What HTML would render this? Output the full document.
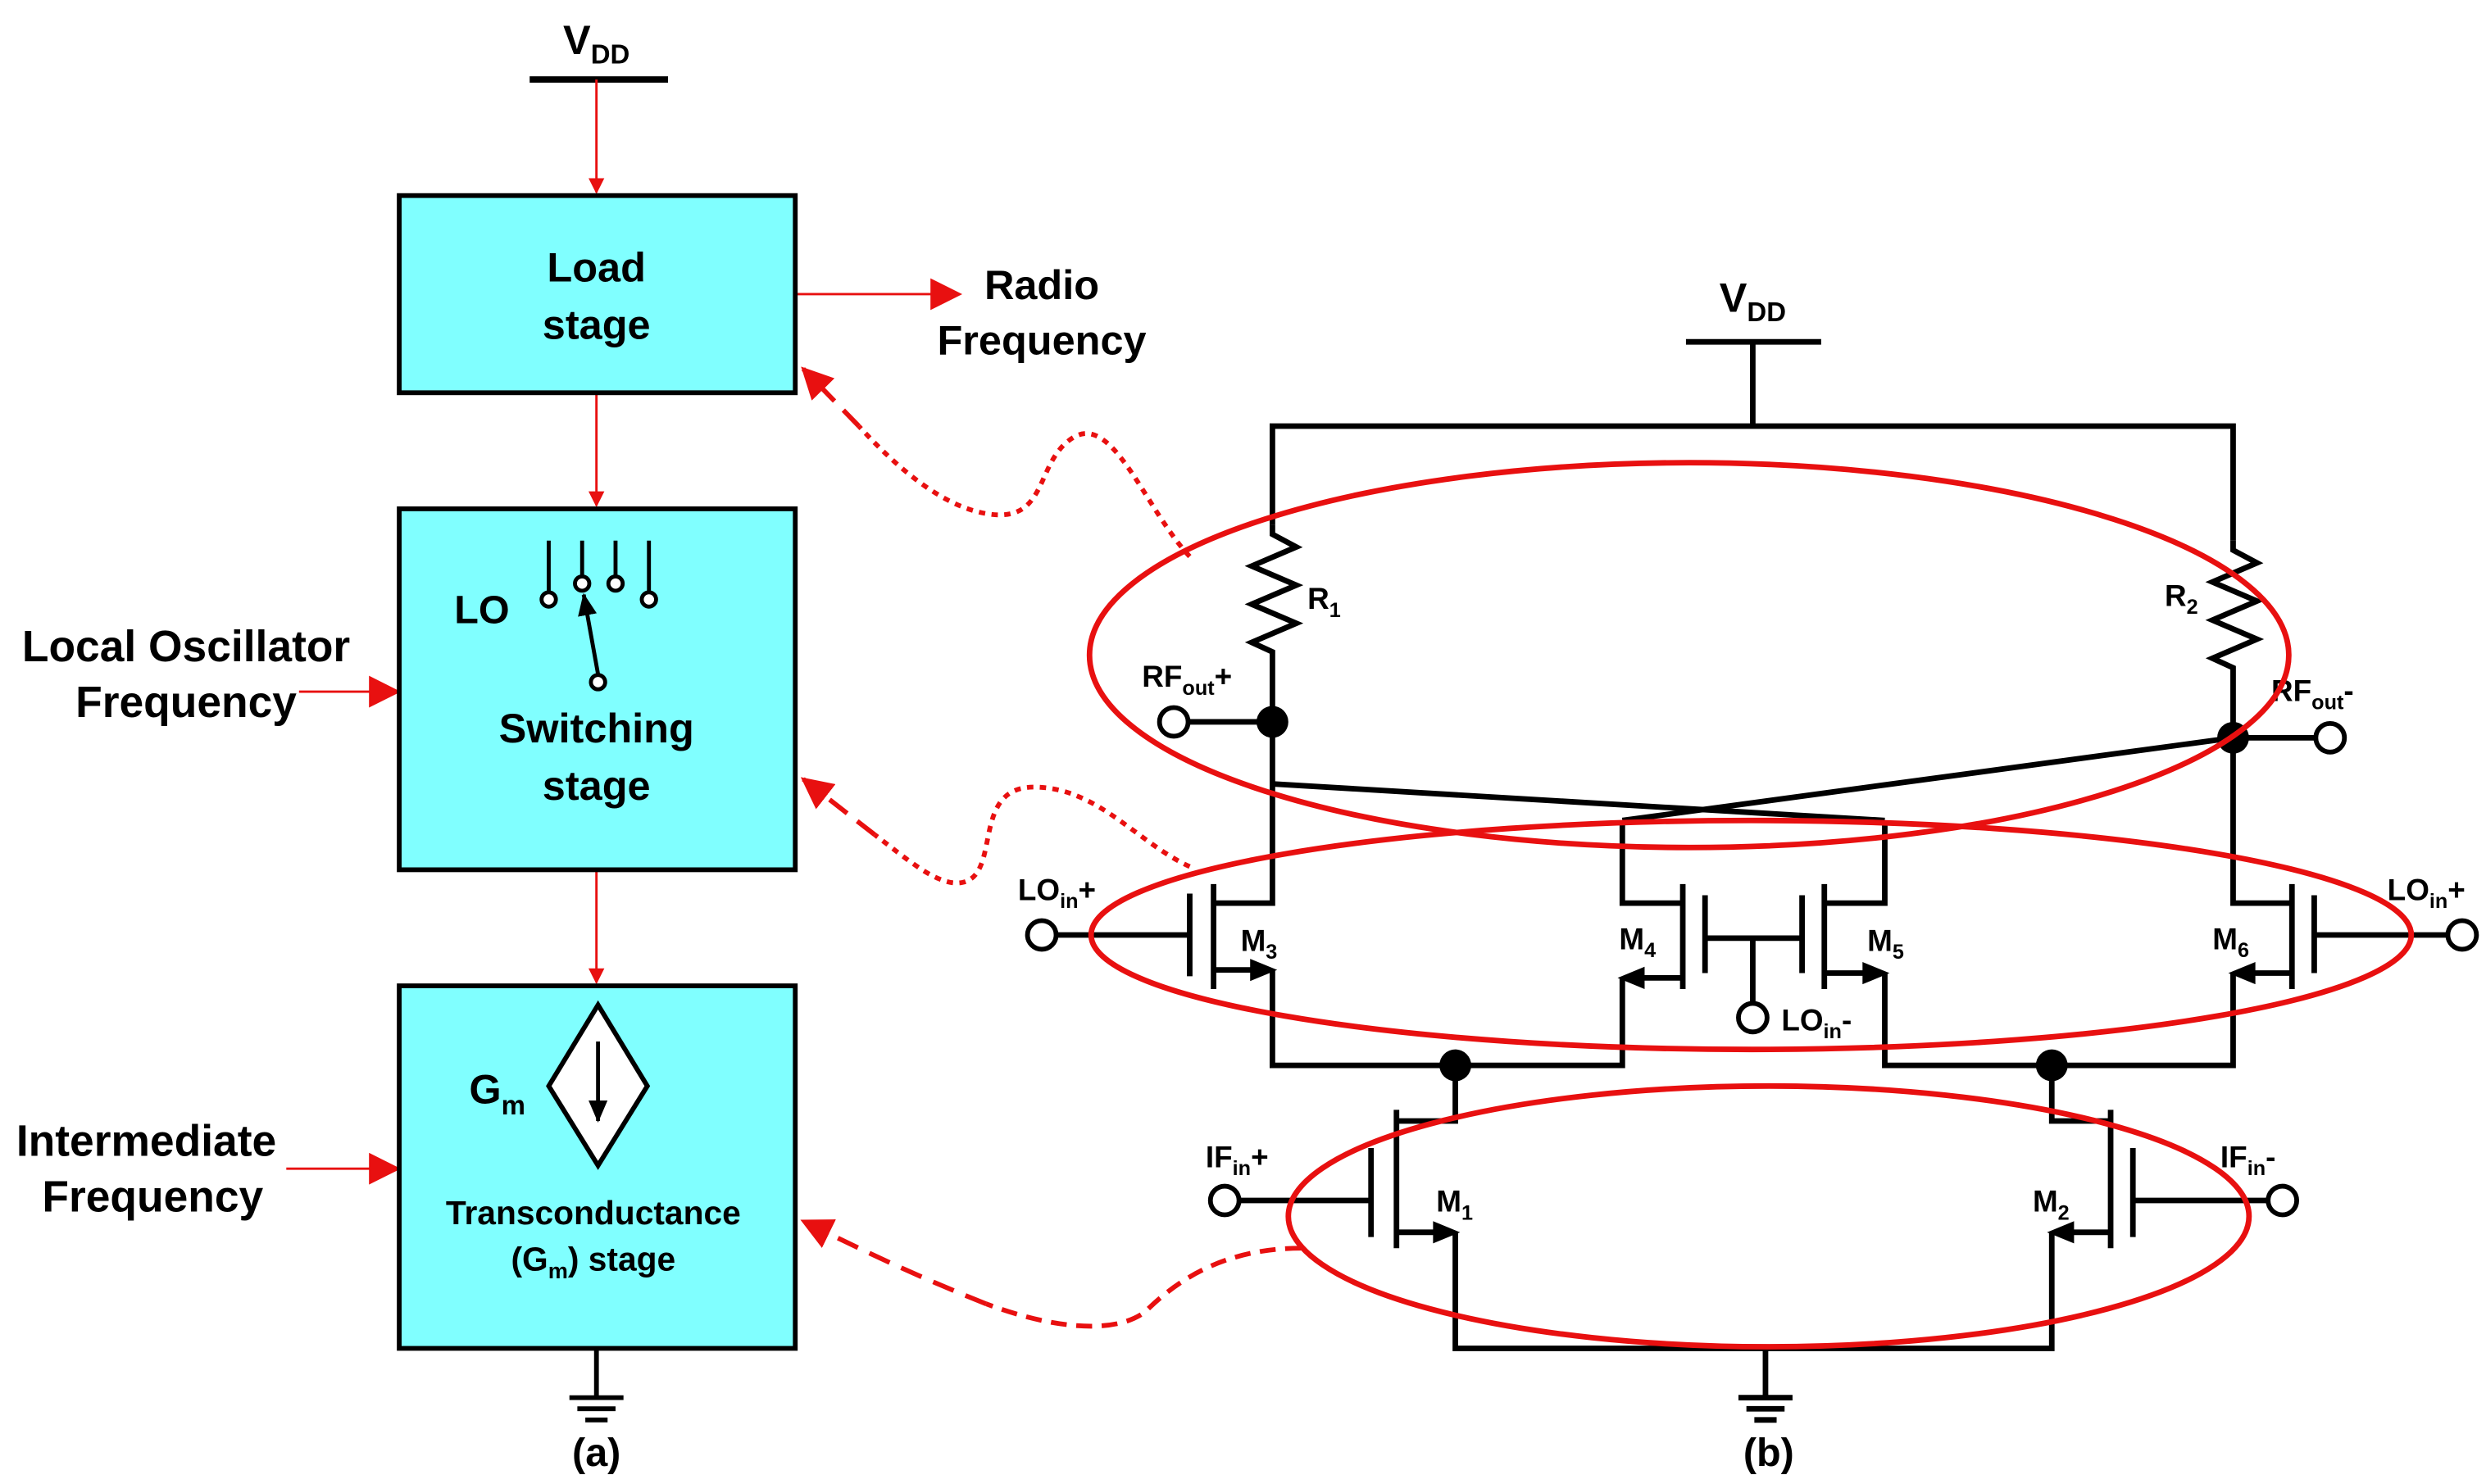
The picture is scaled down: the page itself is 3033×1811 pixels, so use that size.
<!DOCTYPE html>
<html><head><meta charset="utf-8"><style>
html,body{margin:0;padding:0;background:#fff;}
svg{display:block;}
text{font-family:"Liberation Sans",Arial,sans-serif;font-weight:bold;fill:#000;}
</style></head><body>
<svg width="3033" height="1811" viewBox="0 0 1563 933.3" preserveAspectRatio="none" xmlns="http://www.w3.org/2000/svg">
<defs>
<marker id="ra" markerWidth="10" markerHeight="10" refX="9" refY="5" orient="auto" markerUnits="userSpaceOnUse"><path d="M0,0 L10,5 L0,10 Z" fill="#e81010"/></marker>
<marker id="rb" markerWidth="20" markerHeight="20" refX="18" refY="10" orient="auto" markerUnits="userSpaceOnUse"><path d="M0,0 L20,10 L0,20 Z" fill="#e81010"/></marker>
<marker id="ka" markerWidth="14" markerHeight="12" refX="13" refY="6" orient="auto" markerUnits="userSpaceOnUse"><path d="M0,0 L14,6 L0,12 Z" fill="#000"/></marker>
</defs>
<rect width="1563" height="933.3" fill="#fff"/>

<text x="375" y="34" font-size="26" text-anchor="middle">V<tspan font-size="17" dy="6">DD</tspan></text>
<line x1="333" y1="50" x2="420" y2="50" stroke="#000" stroke-width="4"/>
<g stroke="#e81010" stroke-width="1.5" fill="none">
<line x1="375" y1="50" x2="375" y2="121" marker-end="url(#ra)"/>
<line x1="375" y1="248" x2="375" y2="318" marker-end="url(#ra)"/>
<line x1="375" y1="548" x2="375" y2="618" marker-end="url(#ra)"/>
<line x1="500" y1="185" x2="603" y2="185" marker-end="url(#rb)"/>
<line x1="188" y1="435" x2="250" y2="435" marker-end="url(#rb)"/>
<line x1="180" y1="735" x2="250" y2="735" marker-end="url(#rb)"/>
</g>
<g fill="#80ffff" stroke="#000" stroke-width="3">
<rect x="251" y="123" width="249" height="124"/>
<rect x="251" y="320" width="249" height="227"/>
<rect x="251" y="620" width="249" height="228"/>
</g>
<text x="375" y="177" font-size="26" text-anchor="middle">Load</text>
<text x="375" y="213" font-size="26" text-anchor="middle">stage</text>
<text x="655" y="188" font-size="26" text-anchor="middle">Radio</text>
<text x="655" y="223" font-size="26" text-anchor="middle">Frequency</text>
<text x="117" y="416" font-size="27.5" text-anchor="middle">Local Oscillator</text>
<text x="117" y="451" font-size="27.5" text-anchor="middle">Frequency</text>
<text x="92" y="727" font-size="27.5" text-anchor="middle">Intermediate</text>
<text x="96" y="762" font-size="27.5" text-anchor="middle">Frequency</text>

<text x="303" y="392" font-size="25" text-anchor="middle">LO</text>
<g stroke="#000" stroke-width="2.5" fill="#fff">
<line x1="345" y1="340" x2="345" y2="373"/><line x1="366" y1="340" x2="366" y2="363"/>
<line x1="387" y1="340" x2="387" y2="363"/><line x1="408" y1="340" x2="408" y2="373"/>
<circle cx="345" cy="377" r="4.5"/><circle cx="366" cy="367" r="4.5"/>
<circle cx="387" cy="367" r="4.5"/><circle cx="408" cy="377" r="4.5"/>
<line x1="376" y1="424" x2="367" y2="374" marker-end="url(#ka)"/>
<circle cx="376" cy="429" r="4.5"/>
</g>
<text x="375" y="467" font-size="26" text-anchor="middle">Switching</text>
<text x="375" y="503" font-size="26" text-anchor="middle">stage</text>

<text x="295" y="694" font-size="26">G<tspan font-size="17" dy="7">m</tspan></text>
<path d="M376,632 L407,683 L376,733 L345,683 Z" fill="#fff" stroke="#000" stroke-width="3"/>
<line x1="376" y1="655" x2="376" y2="705" stroke="#000" stroke-width="2.5" marker-end="url(#ka)"/>
<text x="373" y="770" font-size="21" text-anchor="middle">Transconductance</text>
<text x="373" y="799" font-size="21" text-anchor="middle">(G<tspan font-size="14" dy="5">m</tspan><tspan dy="-5">) stage</tspan></text>

<g stroke="#000" stroke-width="3">
<line x1="375" y1="848" x2="375" y2="878"/>
<line x1="358" y1="879" x2="392" y2="879"/>
<line x1="363" y1="886" x2="387" y2="886"/>
<line x1="368" y1="893" x2="382" y2="893"/>
</g>
<text x="375" y="922" font-size="25" text-anchor="middle">(a)</text>

<text x="1102" y="196" font-size="26" text-anchor="middle">V<tspan font-size="17" dy="6">DD</tspan></text>
<g stroke="#000" stroke-width="3.5" fill="none">
<line x1="1060" y1="215" x2="1145" y2="215"/>
<line x1="1102" y1="215" x2="1102" y2="268"/>
<polyline points="800,330 800,268 1404,268 1404,340"/>
<polyline points="800,330 800,336 815,344 787,356 815,368 787,380 815,392 787,404 800,410 800,568 763,568"/>
<polyline points="1404,340 1404,346 1419,354 1391,366 1419,378 1391,390 1419,402 1391,414 1404,420 1404,568 1441,568"/>
<line x1="748" y1="454" x2="800" y2="454"/>
<line x1="1404" y1="464" x2="1456" y2="464"/>
<line x1="800" y1="493" x2="1185" y2="516"/>
<line x1="1404" y1="464" x2="1020" y2="516"/>
<line x1="663" y1="588" x2="748" y2="588"/>
<line x1="748" y1="562" x2="748" y2="614"/>
<line x1="763" y1="556" x2="763" y2="622"/>
<line x1="763" y1="610" x2="798" y2="610"/>
<polyline points="800,610 800,670 1020,670 1020,615"/>
<polyline points="1020,516 1020,568 1058,568"/>
<line x1="1058" y1="556" x2="1058" y2="622"/>
<line x1="1022" y1="615" x2="1058" y2="615"/>
<line x1="1072" y1="563" x2="1072" y2="612"/>
<line x1="1072" y1="590" x2="1133" y2="590"/>
<line x1="1133" y1="563" x2="1133" y2="612"/>
<line x1="1102" y1="590" x2="1102" y2="632"/>
<polyline points="1185,516 1185,568 1147,568"/>
<line x1="1147" y1="556" x2="1147" y2="622"/>
<line x1="1147" y1="612" x2="1183" y2="612"/>
<polyline points="1185,612 1185,670 1404,670 1404,612"/>
<line x1="1441" y1="556" x2="1441" y2="622"/>
<line x1="1406" y1="612" x2="1441" y2="612"/>
<line x1="1455" y1="563" x2="1455" y2="612"/>
<line x1="1455" y1="588" x2="1540" y2="588"/>
<polyline points="915,670 915,705 878,705"/>
<line x1="878" y1="698" x2="878" y2="785"/>
<line x1="862" y1="722" x2="862" y2="778"/>
<line x1="778" y1="755" x2="862" y2="755"/>
<line x1="878" y1="775" x2="913" y2="775"/>
<polyline points="915,775 915,848 1290,848 1290,775"/>
<polyline points="1290,670 1290,705 1327,705"/>
<line x1="1327" y1="698" x2="1327" y2="785"/>
<line x1="1341" y1="722" x2="1341" y2="778"/>
<line x1="1341" y1="755" x2="1427" y2="755"/>
<line x1="1292" y1="775" x2="1327" y2="775"/>
<line x1="1110" y1="848" x2="1110" y2="878"/>
<line x1="1093" y1="879" x2="1127" y2="879"/>
<line x1="1098" y1="886" x2="1122" y2="886"/>
<line x1="1103" y1="893" x2="1117" y2="893"/>
</g>
<g fill="#000">
<path d="M803,610 L786,603 L786,617 Z"/>
<path d="M1017,615 L1034,608 L1034,622 Z"/>
<path d="M1188,612 L1171,605 L1171,619 Z"/>
<path d="M1401,612 L1418,605 L1418,619 Z"/>
<path d="M918,775 L901,768 L901,782 Z"/>
<path d="M1287,775 L1304,768 L1304,782 Z"/>
<circle cx="800" cy="454" r="10"/><circle cx="1404" cy="464" r="10"/>
<circle cx="915" cy="670" r="10"/><circle cx="1290" cy="670" r="10"/>
</g>
<g fill="#fff" stroke="#000" stroke-width="3">
<circle cx="738" cy="454" r="9"/><circle cx="1465" cy="464" r="9"/>
<circle cx="655" cy="588" r="9"/><circle cx="1548" cy="588" r="9"/>
<circle cx="1102" cy="640" r="9"/>
<circle cx="770" cy="755" r="9"/><circle cx="1435" cy="755" r="9"/>
</g>
<g font-size="19">
<text x="822" y="383">R<tspan font-size="13" dy="5">1</tspan></text>
<text x="1361" y="381">R<tspan font-size="13" dy="5">2</tspan></text>
<text x="718" y="432">RF<tspan font-size="13" dy="5">out</tspan><tspan dy="-5">+</tspan></text>
<text x="1428" y="441">RF<tspan font-size="13" dy="5">out</tspan><tspan dy="-5">-</tspan></text>
<text x="640" y="566">LO<tspan font-size="13" dy="5">in</tspan><tspan dy="-5">+</tspan></text>
<text x="1501" y="566">LO<tspan font-size="13" dy="5">in</tspan><tspan dy="-5">+</tspan></text>
<text x="780" y="598">M<tspan font-size="13" dy="5">3</tspan></text>
<text x="1018" y="597">M<tspan font-size="13" dy="5">4</tspan></text>
<text x="1174" y="598">M<tspan font-size="13" dy="5">5</tspan></text>
<text x="1391" y="597">M<tspan font-size="13" dy="5">6</tspan></text>
<text x="1120" y="648">LO<tspan font-size="13" dy="5">in</tspan><tspan dy="-5">-</tspan></text>
<text x="758" y="734">IF<tspan font-size="13" dy="5">in</tspan><tspan dy="-5">+</tspan></text>
<text x="1396" y="734">IF<tspan font-size="13" dy="5">in</tspan><tspan dy="-5">-</tspan></text>
<text x="903" y="762">M<tspan font-size="13" dy="5">1</tspan></text>
<text x="1278" y="762">M<tspan font-size="13" dy="5">2</tspan></text>
</g>
<text x="1112" y="922" font-size="25" text-anchor="middle">(b)</text>

<g fill="none" stroke="#e81010" stroke-width="3.5">
<ellipse cx="1062" cy="412" rx="377" ry="121"/>
<ellipse cx="1101" cy="588" rx="415" ry="72"/>
<ellipse cx="1112" cy="765" rx="302" ry="82"/>
</g>
<g fill="none" stroke="#e81010" stroke-width="3">
<path d="M748,350 C720,320 700,260 675,275 C650,290 660,330 620,323 C590,318 560,290 540,268" stroke-dasharray="4,4"/>
<path d="M540,268 L505,232" stroke-dasharray="14,8" marker-end="url(#rb)"/>
<path d="M748,545 C715,530 690,495 650,495 C610,495 630,550 605,555 C590,558 570,540 550,525" stroke-dasharray="4,4"/>
<path d="M550,525 L505,490" stroke-dasharray="14,8" marker-end="url(#rb)"/>
<path d="M818,785 C770,785 740,805 720,825 C700,840 660,835 620,820" stroke-dasharray="10,6"/>
<path d="M620,820 C570,800 540,785 505,768" stroke-dasharray="14,8" marker-end="url(#rb)"/>
</g>
</svg>
</body></html>
